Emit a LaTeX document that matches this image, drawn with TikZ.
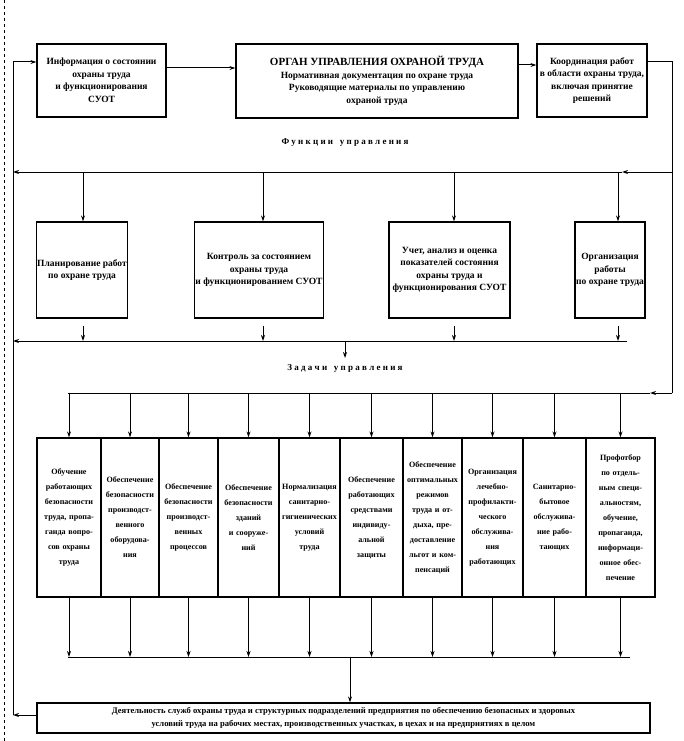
\documentclass[tikz,border=0pt]{standalone}
\usepackage{fontspec}
\setmainfont{Liberation Serif}
\usetikzlibrary{arrows.meta}
\begin{document}
\begin{tikzpicture}[x=1pt,y=-1pt,
  box/.style={draw,line width=1.2pt,align=center,inner sep=1pt,font=\bfseries\fontsize{9.5}{12.5}\selectfont},
  ln/.style={line width=1pt},
  ar/.style={line width=1pt,-{Stealth[length=6pt,width=4pt]}},
  lbl/.style={font=\bfseries\fontsize{9}{10}\selectfont}]
\useasboundingbox (0,0) rectangle (683,741);
\fill[white] (0,0) rectangle (683,741);
\draw[dashed,line width=0.8pt] (4,0) -- (4,741);
% top row
\node[box,minimum width=129,minimum height=73] (info) at (101.5,80.5) {Информация о состоянии\\охраны труда\\и функционирования\\СУОТ};
\node[box,minimum width=282,minimum height=74] (org) at (377,81) {{\fontsize{11}{13}\selectfont ОРГАН УПРАВЛЕНИЯ ОХРАНОЙ ТРУДА}\\Нормативная документация по охране труда\\Руководящие материалы по управлению\\охраной труда};
\node[box,minimum width=110,minimum height=73] (coord) at (592,80.5) {Координация работ\\в области охраны труда,\\включая принятие\\решений};
\draw[ar] (info.east|-0,68) -- (org.west|-0,68);
\draw[ar] (org.east|-0,65) -- (coord.west|-0,65);
\coordinate (r1) at (672,62);
\coordinate (r2) at (672,393);
\coordinate (l1) at (13,62);
\coordinate (l2) at (13,715);
\draw[ln] (coord.east|-0,62) -- (r1) -- (r2);
\draw[ar] (l2) -- (l1) -- (info.west|-0,62);
\node[lbl] (fu) at (345,143) {Ф у н к ц и и \ \ у п р а в л е н и я};
% functions bus
\coordinate (b1r) at (622,172);
\coordinate (b1l) at (13,172);
\draw[ar] (672,172) -- (b1r);
\draw[ar] (b1r) -- (b1l);
\node[box,minimum width=90,minimum height=96] (f1) at (82,270) {Планирование работ\\по охране труда};
\node[box,minimum width=128,minimum height=96] (f2) at (259,270) {Контроль за состоянием\\охраны труда\\и функционированием СУОТ};
\node[box,minimum width=121,minimum height=96] (f3) at (449.5,270) {Учет, анализ и оценка\\показателей состояния\\охраны труда и\\функционирования СУОТ};
\node[box,minimum width=70,minimum height=96] (f4) at (610,270) {Организация\\работы\\по охране труда};
\foreach \n/\x in {f1/83,f2/263,f3/454,f4/618}{
  \draw[ar] (\x,172) -- (\n.north-|\x,0);
  \draw[ar] (\n.south-|\x,0) ++(0,7) -- (\x,341);
}
\draw[ar] (627,341) -- (13,341);
\draw[ar] (345,341) -- (345,358);
\node[lbl] (za) at (345,368) {З а д а ч и \ \ у п р а в л е н и я};
% task bus
\draw[ln] (68,393) -- (650,393);
\draw[ar] (r2) -- (650,393);
\foreach \i/\a/\b/\t in {
 1/37/101/{Обучение\\работающих\\безопасности\\труда, пропа-\\ганда вопро-\\сов охраны\\труда},
 2/101/159/{Обеспечение\\безопасности\\производст-\\венного\\оборудова-\\ния},
 3/159/218/{Обеспечение\\безопасности\\производст-\\венных\\процессов},
 4/218/279/{Обеспечение\\безопасности\\зданий\\и сооруже-\\ний},
 5/279/340/{Нормализация\\санитарно-\\гигиенических\\условий\\труда},
 6/340/403/{Обеспечение\\работающих\\средствами\\индивиду-\\альной\\защиты},
 7/403/462/{Обеспечение\\оптимальных\\режимов\\труда и от-\\дыха, пре-\\доставление\\льгот и ком-\\пенсаций},
 8/462/523/{Организация\\лечебно-\\профилакти-\\ческого\\обслужива-\\ния\\работающих},
 9/523/586/{Санитарно-\\бытовое\\обслужива-\\ние рабо-\\тающих},
 10/586/655/{Профотбор\\по отдель-\\ным специ-\\альностям,\\обучение,\\пропаганда,\\информаци-\\онное обес-\\печение}}{
  \node[box,font=\bfseries\fontsize{8.1}{15}\selectfont,minimum width={\b-\a},minimum height=159,text width={\b-\a-3}] (t\i) at ({(\a+\b)/2},517.5) {\t};
  \draw[ar] ({(\a+\b)/2},393) -- (t\i.north);
  \draw[ar] ({(\a+\b)/2},597) -- ({(\a+\b)/2},657);
}
\draw[ln] (68,657) -- (630,657);
\node[box,font=\bfseries\fontsize{8.6}{13}\selectfont,minimum width=613,minimum height=30] (act) at (343.5,718) {Деятельность служб охраны труда и структурных подразделений предприятия по обеспечению безопасных и здоровых\\условий труда на рабочих местах, производственных участках, в цехах и на предприятиях в целом};
\draw[ar] (350,657) -- (act.north-|350,0);
\draw[ar] (act.west|-0,715) -- (l2);
\end{tikzpicture}
\end{document}
